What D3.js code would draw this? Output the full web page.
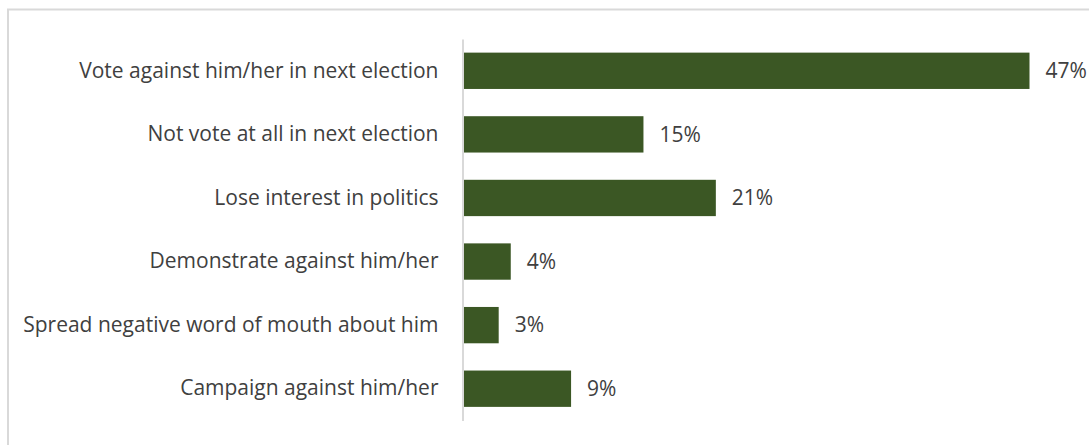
<!DOCTYPE html>
<html>
<head>
<meta charset="utf-8">
<script src="https://cdn.jsdelivr.net/npm/d3@7"></script>
<style>
  html, body { margin: 0; padding: 0; background: #fff; }
  svg { display: block; }
</style>
</head>
<body>
<svg id="chart" width="1089" height="445"></svg>
<script>
// Survey reactions, share of respondents (%)
const categories = [
  "Vote against him/her in next election",
  "Not vote at all in next election",
  "Lose interest in politics",
  "Demonstrate against him/her",
  "Spread negative word of mouth about him",
  "Campaign against him/her"
];
const values = [47, 15, 21, 4, 3, 9];

const svg = d3.select("#chart");
const W = 1089, H = 445;
const FONT = "'Open Sans', sans-serif";
const FONT_SIZE = 21;

// outer frame of the chart area
svg.append("rect")
  .attr("x", 8).attr("y", 9.5)
  .attr("width", W + 20).attr("height", H + 20)
  .attr("fill", "none")
  .attr("stroke", "#d9d9d9")
  .attr("stroke-width", 2);

const x0 = 462.5;
const x = d3.scaleLinear().domain([0, 47]).range([x0, 1029.5]);
const y = d3.scaleBand()
  .domain(categories)
  .range([39, 420.5])
  .paddingInner(0.4286)
  .paddingOuter(0.2143);

// bars
svg.append("g").selectAll("rect")
  .data(values)
  .join("rect")
  .attr("x", x(0))
  .attr("y", (d, i) => y(categories[i]))
  .attr("width", d => x(d) - x(0))
  .attr("height", y.bandwidth())
  .attr("fill", "#3b5724");

// category axis
const axis = d3.axisLeft(y).tickSize(0).tickPadding(24);
const gAxis = svg.append("g")
  .attr("transform", `translate(${x0},0)`)
  .call(axis);
gAxis.select(".domain").attr("stroke", "#d9d9d9").attr("stroke-width", 2);
gAxis.selectAll(".tick text")
  .attr("font-family", FONT)
  .attr("font-size", FONT_SIZE)
  .attr("fill", "#404040");

// value labels
svg.append("g").selectAll("text")
  .data(values)
  .join("text")
  .attr("x", d => x(d) + 16)
  .attr("y", (d, i) => y(categories[i]) + y.bandwidth() / 2)
  .attr("dy", "0.35em")
  .attr("font-family", FONT)
  .attr("font-size", FONT_SIZE)
  .attr("fill", "#404040")
  .text(d => d + "%");
</script>
</body>
</html>
